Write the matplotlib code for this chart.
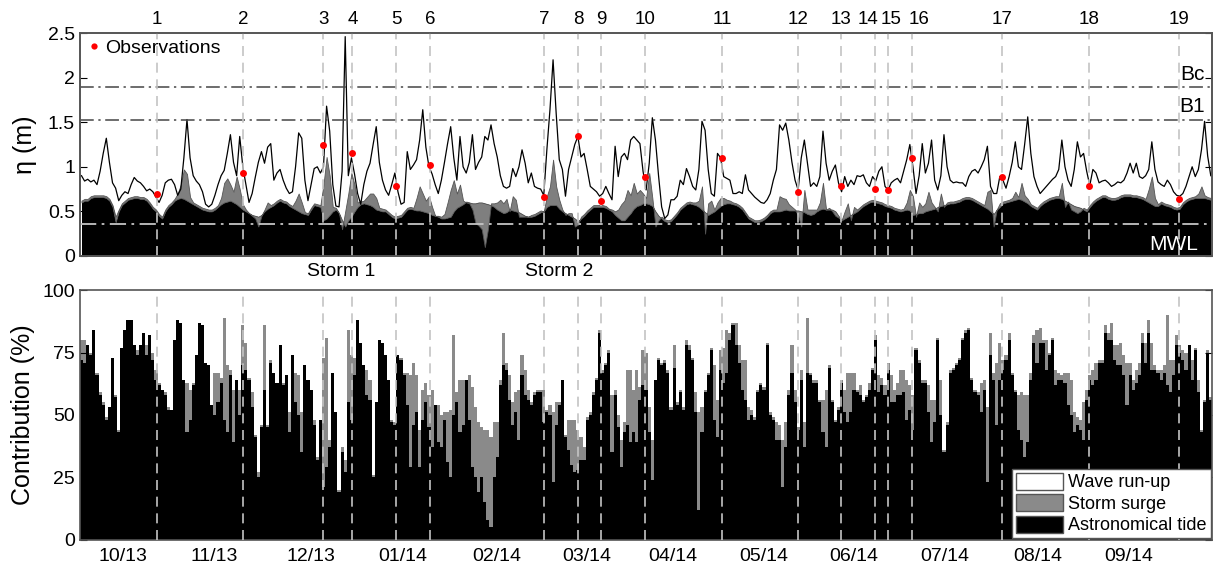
import numpy as np
import matplotlib
matplotlib.use('Agg')
import matplotlib.pyplot as plt
from matplotlib.patches import Patch

plt.rcParams['font.family'] = ['Liberation Sans', 'DejaVu Sans']

# daily maximum water level components (m), one value per day from 10/2013
tide = [0.60,0.62,0.62,0.65,0.66,0.66,0.66,0.66,0.65,0.62, 0.55,0.38,0.50,0.57,0.60,0.63,0.64,0.65,0.65,0.64,
        0.64,0.62,0.58,0.53,0.50,0.45,0.42,0.50,0.55,0.58, 0.62,0.64,0.65,0.64,0.62,0.60,0.58,0.56,0.54,0.52,
        0.51,0.50,0.50,0.52,0.55,0.58,0.60,0.61,0.62,0.60, 0.58,0.55,0.52,0.50,0.48,0.46,0.45,0.44,0.46,0.50,
        0.53,0.55,0.57,0.60,0.62,0.60,0.59,0.56,0.54,0.52, 0.50,0.48,0.47,0.46,0.52,0.57,0.56,0.55,0.40,0.42,
        0.46,0.50,0.52,0.48,0.40,0.33,0.40,0.44,0.50,0.55, 0.58,0.59,0.58,0.57,0.55,0.52,0.51,0.50,0.50,0.47,
        0.44,0.42,0.43,0.44,0.48,0.52,0.53,0.52,0.51,0.51, 0.50,0.49,0.48,0.46,0.45,0.44,0.42,0.42,0.43,0.44,
        0.50,0.54,0.56,0.58,0.61,0.60,0.59,0.59,0.60,0.60, 0.59,0.58,0.57,0.55,0.52,0.50,0.48,0.49,0.52,0.51,
        0.50,0.49,0.47,0.45,0.44,0.44,0.45,0.47,0.49,0.50, 0.55,0.57,0.57,0.57,0.53,0.50,0.48,0.46,0.44,0.42,
        0.39,0.42,0.45,0.49,0.52,0.55,0.55,0.55,0.55,0.54, 0.52,0.50,0.46,0.43,0.40,0.40,0.44,0.48,0.53,0.56,
        0.57,0.59,0.59,0.58,0.56,0.50,0.45,0.42,0.39,0.38, 0.39,0.43,0.47,0.52,0.55,0.58,0.59,0.58,0.57,0.55,
        0.52,0.49,0.46,0.48,0.50,0.53,0.56,0.58,0.59,0.59, 0.58,0.57,0.55,0.52,0.47,0.42,0.40,0.38,0.38,0.39,
        0.41,0.44,0.48,0.50,0.50,0.50,0.51,0.52,0.51,0.51, 0.51,0.51,0.50,0.49,0.47,0.46,0.47,0.50,0.52,0.53,
        0.52,0.52,0.52,0.50,0.45,0.40,0.42,0.44,0.46,0.48, 0.50,0.53,0.56,0.58,0.60,0.61,0.60,0.59,0.58,0.56,
        0.55,0.54,0.52,0.51,0.50,0.51,0.52,0.51,0.46,0.47, 0.48,0.48,0.50,0.51,0.52,0.53,0.55,0.56,0.57,0.58,
        0.59,0.59,0.60,0.61,0.63,0.64,0.64,0.63,0.61,0.59, 0.57,0.55,0.53,0.50,0.47,0.52,0.55,0.59,0.60,0.61,
        0.62,0.63,0.64,0.63,0.61,0.59,0.56,0.54,0.52,0.56, 0.59,0.61,0.63,0.64,0.65,0.65,0.64,0.62,0.60,0.58,
        0.56,0.55,0.54,0.52,0.50,0.55,0.59,0.62,0.64,0.66, 0.66,0.64,0.63,0.63,0.64,0.66,0.67,0.67,0.67,0.66,
        0.66,0.65,0.64,0.62,0.60,0.58,0.56,0.56,0.59,0.57, 0.56,0.55,0.53,0.52,0.53,0.58,0.61,0.63,0.64,0.65,
        0.65,0.65,0.65,0.64,0.63]

surge = [0.02,0.02,0.02,0.02,0.02,0.02,0.02,0.02,0.02,0.02, 0.02,0.06,0.02,0.02,0.02,0.02,0.02,0.02,0.02,0.02,
         0.02,0.02,0.02,0.02,0.02,0.02,0.02,0.02,0.02,0.02, 0.02,0.06,0.15,0.33,0.30,0.06,0.02,0.02,0.02,0.02,
         0.02,0.02,0.02,0.02,0.02,0.07,0.22,0.26,0.18,0.12, 0.31,0.20,0.06,0.02,0.00,-0.01,-0.03,-0.11,-0.01,0.02,
         0.07,0.02,0.02,0.02,0.02,0.02,0.02,0.02,0.02,0.10, 0.20,0.12,0.02,0.02,0.02,0.02,0.02,0.02,0.40,0.69,
         0.44,0.05,0.02,0.00,-0.10,0.17,0.30,0.49,0.30,0.05, 0.03,0.03,0.08,0.13,0.15,0.13,0.03,0.03,0.02,0.02,
         0.02,0.02,0.02,0.02,0.02,0.02,0.02,0.02,0.14,0.27, 0.20,0.13,0.19,0.09,0.00,0.01,0.02,0.05,0.17,0.30,
         0.35,0.16,0.24,0.04,-0.01,-0.01,-0.07,-0.22,-0.26,-0.30, -0.49,-0.28,0.02,0.04,0.08,0.13,0.11,0.15,-0.02,0.16,
         0.13,-0.05,-0.03,-0.01,0.00,0.02,0.02,0.02,0.02,0.00, 0.12,0.21,0.51,0.21,0.10,0.02,-0.02,0.02,0.04,-0.09,
         -0.04,0.02,0.02,0.02,0.02,0.02,0.02,0.02,0.02,0.02, 0.01,0.02,0.04,0.09,0.18,0.22,0.30,0.20,0.29,0.14,
         0.17,0.11,0.06,0.35,0.09,-0.17,-0.05,0.02,0.02,0.02, 0.02,0.02,0.02,0.02,0.02,0.02,0.02,0.02,0.03,0.07,
         0.26,-0.24,0.13,0.14,0.02,0.07,0.09,0.07,0.04,0.03, 0.02,0.02,0.02,0.02,0.02,0.02,0.02,0.02,0.02,0.02,
         0.02,0.02,0.02,0.02,0.02,0.17,0.14,0.12,0.07,0.04, 0.01,-0.06,-0.17,0.25,0.05,0.06,0.05,0.02,0.08,0.29,
         0.00,0.02,-0.02,-0.05,-0.02,0.00,0.08,0.15,-0.06,0.07, 0.02,0.02,0.02,0.02,0.02,0.02,0.02,0.02,0.02,0.02,
         0.02,0.02,0.02,0.02,0.02,0.02,0.08,0.23,0.21,-0.03, 0.12,0.07,0.09,0.21,0.08,0.02,-0.05,0.14,-0.02,0.02,
         0.02,0.02,0.02,0.02,0.02,0.02,0.02,0.02,0.02,0.02, 0.02,0.02,0.19,0.24,-0.14,0.00,0.04,0.02,0.02,0.02,
         0.03,0.09,0.02,0.19,0.07,0.05,0.02,0.02,0.02,0.02, 0.02,0.02,0.02,0.02,0.02,0.02,0.18,-0.07,0.01,-0.06,
         -0.06,-0.07,-0.04,0.02,0.02,0.02,0.02,0.02,0.02,0.02, 0.02,0.02,0.02,0.02,0.02,0.02,0.02,0.02,0.02,0.02,
         0.02,0.02,0.02,0.02,0.15,0.31,0.09,0.02,0.02,0.02, 0.02,0.02,0.02,0.02,0.02,0.02,0.02,0.02,0.02,0.02,
         0.05,0.13,0.03,0.02,0.02]

total = [0.90,0.84,0.86,0.83,0.85,0.80,0.95,1.15,1.32,1.05, 0.82,0.76,0.62,0.68,0.72,0.70,0.80,0.88,0.84,0.82,
         0.78,0.73,0.75,0.72,0.66,0.60,0.68,0.82,0.85,0.86, 0.80,0.68,0.75,1.10,1.53,1.10,0.90,0.84,0.80,0.72,
         0.58,0.55,0.58,0.68,0.80,0.90,0.96,1.15,1.36,1.05, 0.90,1.34,1.00,0.80,0.60,0.70,0.88,1.05,1.17,1.04,
         1.22,1.26,0.85,0.93,0.97,0.85,0.76,0.70,0.72,1.00, 1.38,1.32,0.85,0.62,0.80,0.98,1.00,0.93,1.00,1.68,
         1.40,0.80,0.56,0.55,0.95,2.46,0.90,1.10,0.92,0.70, 0.58,0.80,0.95,1.04,1.25,1.45,1.05,0.85,0.74,0.68,
         0.80,0.93,0.72,0.58,0.60,1.17,0.97,1.02,1.08,1.30, 1.64,1.22,1.00,0.92,0.80,0.70,0.85,1.05,1.26,1.45,
         1.10,0.85,1.34,1.00,0.93,1.05,1.36,0.97,1.05,1.11, 1.34,1.30,1.47,1.26,1.11,0.90,0.78,0.76,0.78,0.98,
         0.89,1.00,1.19,1.04,0.82,0.93,0.78,0.76,0.75,0.68, 1.19,1.64,2.20,1.60,1.08,0.97,0.67,0.97,1.11,1.25,
         1.34,1.11,1.15,0.97,0.78,0.75,0.72,0.67,0.70,0.78, 0.70,0.63,1.23,0.89,1.11,1.15,1.08,1.30,1.34,1.30,
         1.26,0.95,0.74,1.04,1.55,1.30,0.90,0.55,0.42,0.46, 0.63,0.63,0.67,0.85,0.80,0.98,0.89,0.78,0.74,0.97,
         1.51,1.41,0.97,0.70,0.67,1.15,1.10,0.89,0.87,0.85, 0.70,0.70,0.72,0.70,0.91,0.74,0.70,0.66,0.63,0.60,
         0.59,0.63,0.70,0.85,0.97,1.47,1.41,1.49,1.30,1.05, 0.85,0.74,1.10,1.30,1.04,0.78,0.82,0.78,0.89,1.40,
         1.04,0.85,0.95,1.02,0.82,0.72,0.89,0.78,0.85,0.80, 0.90,0.89,0.91,0.82,0.78,0.89,0.84,0.95,1.00,0.78,
         0.74,0.82,0.85,0.87,0.82,0.95,1.08,1.25,1.00,0.70, 0.90,1.26,0.93,1.04,1.30,0.85,0.74,0.90,1.36,1.00,
         0.85,0.82,0.83,0.82,0.82,0.78,0.89,0.95,0.97,0.93, 1.00,1.08,1.23,0.78,0.70,0.70,0.89,0.85,0.76,0.89,
         1.05,1.28,1.00,0.97,1.25,1.56,1.15,0.89,0.78,0.70, 0.74,0.78,0.82,0.86,0.89,0.97,1.30,1.00,0.85,0.78,
         0.97,1.28,1.11,1.15,0.95,0.79,0.97,0.93,0.82,0.84, 0.85,0.82,0.78,0.80,0.83,0.82,0.85,0.93,1.04,0.93,
         1.04,0.89,0.87,0.90,0.97,1.28,0.97,0.83,0.80,0.78, 0.85,0.80,0.72,0.68,0.67,0.70,0.78,0.89,1.00,0.89,
         0.97,1.19,1.51,1.12,0.90]

# field surveys: day of survey and measured level (m)
obs_day = [24.2, 52.2, 78.0, 87.3, 101.5, 112.4, 149.2, 160.1, 167.5, 181.7,
           206.5, 231.0, 244.8, 255.8, 260.0, 267.7, 296.7, 324.7, 353.7]
obs_level = [0.69, 0.93, 1.24, 1.16, 0.79, 1.02, 0.66, 1.34, 0.62, 0.88,
             1.10, 0.72, 0.79, 0.75, 0.74, 1.10, 0.89, 0.78, 0.64]

# contribution of each component to the daily maximum (%)
tide_pct = [72,71,78,74,84,66,58,54,48,53, 73,57,43,77,84,88,88,78,74,78,
            83,74,82,72,64,62,60,58,52,52, 80,88,87,64,43,48,62,74,87,86,
            71,70,54,50,55,63,48,43,66,39, 64,50,70,68,64,53,41,25,45,60,
            45,71,67,63,78,62,66,43,74,55, 50,35,70,64,60,46,32,48,21,29,
            37,67,51,19,35,27,55,48,66,88, 79,70,58,56,25,55,80,79,74,64,
            47,46,74,72,66,54,29,46,51,29, 48,55,45,37,54,39,37,48,31,25,
            50,55,43,46,64,48,29,25,19,25, 15,8,5,25,33,62,70,68,56,46,
            51,40,66,58,56,54,58,59,59,47, 51,50,23,46,54,64,41,36,30,27,
            28,32,32,48,50,58,64,83,67,70, 75,35,58,45,29,43,46,39,43,39,
            56,62,60,43,24,64,72,70,71,67, 52,69,54,59,52,78,76,72,51,12,
            43,59,66,76,48,41,68,63,67,80, 86,78,71,60,56,48,50,48,59,62,
            60,78,50,48,40,40,21,37,58,67, 55,44,64,37,67,66,63,63,55,43,
            37,69,55,47,52,63,51,47,51,60, 59,58,55,57,60,68,80,59,62,58,
            68,55,55,58,58,59,48,52,44,76, 71,63,63,51,39,47,80,50,35,46,
            67,68,70,72,80,83,84,64,59,58, 51,60,23,74,64,46,64,68,72,80,
            66,59,44,40,33,39,64,79,71,79, 79,68,74,80,62,64,64,63,54,50,
            43,46,44,40,56,64,62,64,71,71, 83,80,80,72,70,70,66,54,66,60,
            63,66,79,71,83,68,68,67,64,67, 62,59,66,78,75,72,68,78,64,76,
            59,43,55,75,56]

tide_surge_pct = [80,80,78,75,84,67,59,55,49,53, 73,58,44,77,84,88,88,78,76,78,
                  83,78,82,75,68,63,60,59,53,52, 80,88,87,64,63,60,63,74,87,86,
                  71,70,54,67,67,65,89,70,68,60, 64,60,86,79,65,59,42,27,46,86,
                  46,72,67,63,78,63,66,51,74,67, 66,51,70,64,60,48,33,48,73,81,
                  40,67,51,20,37,32,84,74,73,88, 79,69,68,64,26,55,80,79,74,64,
                  48,47,74,73,67,67,66,71,66,44, 60,63,58,60,54,54,50,51,51,52,
                  82,59,64,64,64,66,61,53,47,45, 44,44,41,47,47,64,83,71,66,55,
                  59,60,74,68,60,55,59,60,60,60, 52,54,51,55,55,64,42,48,48,48,
                  44,41,37,49,51,59,65,84,68,71, 76,58,60,50,40,47,68,68,60,68,
                  61,76,75,53,40,64,73,71,72,68, 53,78,55,60,53,80,78,73,59,51,
                  53,60,67,77,70,56,76,77,84,83, 87,87,78,72,72,53,52,49,60,63,
                  61,79,51,49,47,46,40,47,60,78, 60,45,68,47,89,67,64,64,56,56,
                  60,70,56,48,53,64,60,67,67,67, 60,62,56,58,63,69,82,66,65,62,
                  71,66,60,63,68,68,64,62,58,77, 72,64,64,62,56,56,81,64,36,47,
                  68,69,71,73,81,84,85,65,60,59, 63,64,53,83,67,71,79,72,74,83,
                  67,60,58,59,58,58,67,82,84,85, 80,80,75,81,68,67,66,67,67,64,
                  51,49,48,55,60,66,68,71,72,72, 86,83,87,78,78,79,74,71,71,64,
                  68,71,83,79,88,79,70,68,68,70, 90,72,72,82,78,76,75,78,72,77,
                  64,44,56,76,57]

month_labels = ['10/13', '11/13', '12/13', '01/14', '02/14', '03/14',
                '04/14', '05/14', '06/14', '07/14', '08/14', '09/14']
month_pos = [13.5, 42.8, 74.0, 103.7, 133.7, 163.0, 190.7, 220.0, 249.0, 278.4, 308.3, 337.6]

Bc = 1.89
B1 = 1.53
MWL = 0.36

days = np.arange(len(tide))
tide = np.array(tide)
surge = np.array(surge)
total = np.array(total)

fig = plt.figure(figsize=(12.15, 5.70), dpi=100)
ax1 = fig.add_axes([0.0658, 0.551, 0.932, 0.391])
ax2 = fig.add_axes([0.0658, 0.053, 0.932, 0.438])

grey = '#7f7f7f'
evcol = '#c4c4c4'

# ---- water level panel
ax1.fill_between(days, 0, tide, color='black', lw=0)
ax1.fill_between(days, tide, tide + surge, color=grey, lw=0.6, edgecolor='#555555')
ax1.plot(days, total, color='black', lw=0.9)
for d in obs_day:
    ax1.axvline(d, color=evcol, ls=(0, (6, 4)), lw=1.2, zorder=3)
ax1.axhline(Bc, color='#454545', ls=(0, (9, 3, 1.5, 3)), lw=1.1)
ax1.axhline(B1, color='#454545', ls=(0, (9, 3, 1.5, 3)), lw=1.1)
ax1.axhline(MWL, color=evcol, ls=(0, (9, 3, 1.5, 3)), lw=1.3, zorder=3)
ax1.plot(obs_day, obs_level, 'o', color='red', ms=5, mec='none', zorder=5, label='Observations')

ax1.text(362, Bc + 0.04, 'Bc', ha='right', va='bottom', fontsize=15)
ax1.text(362, B1 + 0.04, 'B1', ha='right', va='bottom', fontsize=15)
ax1.text(360, 0.02, 'MWL', ha='right', va='bottom', fontsize=15, color='white', zorder=6)
ax1.text(83.8, -0.08, 'Storm 1', ha='center', va='top', fontsize=14)
ax1.text(154.0, -0.08, 'Storm 2', ha='center', va='top', fontsize=14)

ax1.set_xlim(-0.5, 364.5)
ax1.set_ylim(0, 2.5)
ax1.set_yticks([0, 0.5, 1, 1.5, 2, 2.5])
ax1.set_yticklabels(['0', '0.5', '1', '1.5', '2', '2.5'])
ax1.set_xticks([])
ax1.set_ylabel('η (m)', fontsize=18)
ax1.tick_params(axis='y', direction='in', right=True, labelsize=14, length=5)
ax1.legend(loc='upper left', frameon=False, fontsize=14, handletextpad=0.2,
           handlelength=0.8, borderaxespad=0.0, borderpad=0.3, markerscale=0.9)

# survey numbers along the top; 14, 15 and 16 are nudged apart so they stay readable
label_pos = list(obs_day)
label_pos[13] -= 2.2
label_pos[14] += 1.0
label_pos[15] += 2.2
top = ax1.twiny()
top.set_xlim(ax1.get_xlim())
top.set_xticks(label_pos)
top.set_xticklabels([str(i + 1) for i in range(len(obs_day))])
top.tick_params(axis='x', length=0, labelsize=13.5, pad=4)
for a in (ax1, top):
    for s in a.spines.values():
        s.set_color('#555555')
        s.set_linewidth(1.2)

# ---- contribution panel
ax2.bar(days, tide_surge_pct, width=1.0, color='#8a8a8a', lw=0)
ax2.bar(days, tide_pct, width=1.0, color='black', lw=0)
for d in obs_day:
    ax2.axvline(d, color=evcol, ls=(0, (6, 4)), lw=1.2, zorder=3)
ax2.set_xlim(-0.5, 364.5)
ax2.set_ylim(0, 100)
ax2.set_yticks([0, 25, 50, 75, 100])
ax2.set_xticks(month_pos)
ax2.set_xticklabels(month_labels)
ax2.set_ylabel('Contribution (%)', fontsize=18)
ax2.tick_params(axis='y', direction='in', right=True, labelsize=14, length=5)
ax2.tick_params(axis='x', length=0, labelsize=14, pad=6)
for s in ax2.spines.values():
    s.set_color('#555555')
    s.set_linewidth(1.2)

handles = [Patch(facecolor='white', edgecolor='#555555', label='Wave run-up'),
           Patch(facecolor='#8a8a8a', edgecolor='#555555', label='Storm surge'),
           Patch(facecolor='black', edgecolor='#555555', label='Astronomical tide')]
leg = ax2.legend(handles=handles, loc='lower right', fontsize=13, fancybox=False,
                 framealpha=1, edgecolor='#555555', borderaxespad=0.1,
                 handlelength=2.6, handleheight=1.1, handletextpad=0.3,
                 labelspacing=0.15, borderpad=0.2)
leg.set_zorder(10)
ax1.yaxis.set_label_coords(-0.038, 0.5)
ax2.yaxis.set_label_coords(-0.04, 0.5)

fig.savefig('out.png', dpi=100)
